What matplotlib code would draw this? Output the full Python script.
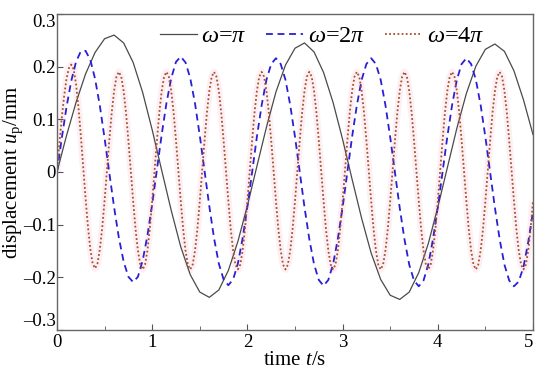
import numpy as np
import matplotlib
matplotlib.use("Agg")
import matplotlib.pyplot as plt

plt.rcParams['font.family'] = ['Liberation Serif', 'DejaVu Serif']
plt.rcParams['mathtext.fontset'] = 'custom'
plt.rcParams['mathtext.rm'] = 'Liberation Serif'
plt.rcParams['mathtext.it'] = 'Liberation Serif:italic'

# time grids (s)
t_pi = np.linspace(0, 5, 51)
t_2pi = np.linspace(0, 5, 101)
t_4pi = np.linspace(0, 5, 201)

# displacement u_p (mm)
u_pi = [0.000, 0.069, 0.132, 0.186, 0.227, 0.253, 0.260, 0.245, 0.208, 0.151, 0.080,
        0.003, -0.073, -0.142, -0.195, -0.228, -0.238, -0.224, -0.187, -0.132, -0.064,
        0.011, 0.085, 0.152, 0.203, 0.235, 0.245, 0.228, 0.189, 0.132, 0.062,
        -0.014, -0.088, -0.154, -0.204, -0.234, -0.242, -0.228, -0.191, -0.136, -0.067,
        0.008, 0.083, 0.149, 0.201, 0.233, 0.243, 0.229, 0.192, 0.137, 0.071]

u_2pi = [0.000, 0.064, 0.123, 0.173, 0.209, 0.229,
         0.230, 0.213, 0.177, 0.126, 0.064, -0.002, -0.067, -0.125, -0.170, -0.199, -0.209,
         -0.199, -0.168, -0.121, -0.061, 0.005, 0.071, 0.131, 0.178, 0.209, 0.219,
         0.208, 0.178, 0.130, 0.069, 0.002, -0.065, -0.126, -0.174, -0.204, -0.215,
         -0.204, -0.174, -0.126, -0.066, 0.000, 0.067, 0.127, 0.175, 0.205, 0.216,
         0.205, 0.175, 0.127, 0.067, 0.000, -0.067, -0.127, -0.175, -0.205, -0.216,
         -0.205, -0.175, -0.127, -0.067, 0.000, 0.067, 0.127, 0.175, 0.205, 0.216,
         0.205, 0.175, 0.127, 0.066, -0.001, -0.068, -0.128, -0.176, -0.206, -0.217,
         -0.206, -0.176, -0.127, -0.067, 0.000, 0.067, 0.127, 0.175, 0.205, 0.216,
         0.205, 0.175, 0.127, 0.066, -0.001, -0.068, -0.128, -0.176, -0.206, -0.217,
         -0.208, -0.180, -0.133, -0.075]

u_4pi = [0.000, 0.053, 0.102, 0.144, 0.177, 0.197, 0.204,
         0.195, 0.167, 0.124, 0.070, 0.010, -0.049, -0.103, -0.146, -0.174, -0.183,
         -0.174, -0.147, -0.106, -0.054, 0.004, 0.061, 0.113, 0.154, 0.181, 0.190,
         # t = 0.675 .. 1.15
         0.181, 0.154, 0.113, 0.060, 0.003, -0.055, -0.108, -0.149, -0.176, -0.185,
         -0.176, -0.149, -0.108, -0.055, 0.003, 0.060, 0.113, 0.154, 0.181, 0.190,
         # t = 1.175 .. 1.65
         0.181, 0.154, 0.113, 0.060, 0.003, -0.055, -0.108, -0.149, -0.176, -0.185,
         -0.176, -0.149, -0.108, -0.055, 0.003, 0.060, 0.113, 0.154, 0.181, 0.190,
         # t = 1.675 .. 2.15
         0.181, 0.154, 0.113, 0.060, 0.003, -0.055, -0.108, -0.149, -0.176, -0.185,
         -0.176, -0.149, -0.108, -0.055, 0.003, 0.060, 0.113, 0.154, 0.181, 0.190,
         # t = 2.175 .. 2.65
         0.181, 0.154, 0.113, 0.060, 0.003, -0.055, -0.108, -0.149, -0.176, -0.185,
         -0.176, -0.149, -0.108, -0.055, 0.003, 0.060, 0.113, 0.154, 0.181, 0.190,
         # t = 2.675 .. 3.15
         0.181, 0.154, 0.113, 0.060, 0.003, -0.055, -0.108, -0.149, -0.176, -0.185,
         -0.176, -0.149, -0.108, -0.055, 0.003, 0.060, 0.113, 0.154, 0.181, 0.190,
         # t = 3.175 .. 3.65
         0.181, 0.154, 0.113, 0.060, 0.003, -0.055, -0.108, -0.149, -0.176, -0.185,
         -0.176, -0.149, -0.108, -0.055, 0.003, 0.060, 0.113, 0.154, 0.181, 0.190,
         # t = 3.675 .. 4.15
         0.181, 0.154, 0.113, 0.060, 0.003, -0.055, -0.108, -0.149, -0.176, -0.185,
         -0.176, -0.149, -0.108, -0.055, 0.003, 0.060, 0.113, 0.154, 0.181, 0.190,
         # t = 4.175 .. 4.65
         0.181, 0.154, 0.113, 0.060, 0.003, -0.055, -0.108, -0.149, -0.176, -0.185,
         -0.176, -0.149, -0.108, -0.055, 0.003, 0.060, 0.113, 0.154, 0.181, 0.190,
         # t = 4.675 .. 5.0
         0.181, 0.154, 0.113, 0.060, 0.003, -0.055, -0.108, -0.149, -0.176, -0.185,
         -0.176, -0.149, -0.108, -0.055]

labels = [r'$\omega$=$\pi$', r'$\omega$=2$\pi$', r'$\omega$=4$\pi$']
yticks = [-0.3, -0.2, -0.1, 0, 0.1, 0.2, 0.3]
ytick_labels = ['\u20130.3', '\u20130.2', '\u20130.1', '0', '0.1', '0.2', '0.3']

fig = plt.figure(figsize=(5.5, 3.79), dpi=100)
ax = fig.add_axes([0.1036, 0.1293, 0.8655, 0.8338])

ax.plot(t_pi, u_pi, color='#4a4a4a', lw=0.9, label=labels[0])
ax.plot(t_2pi, u_2pi, color='#2a1fd6', lw=1.3, ls=(0, (3.8, 2.6)), label=labels[1])
# faint pink halo under the dotted curve
ax.plot(t_4pi, u_4pi, color='#fdf0f5', lw=5, solid_capstyle='butt', zorder=1)
ax.plot(t_4pi, u_4pi, color='#a8502a', lw=1.3, ls=(0, (1, 1.3)), label=labels[2])

ax.set_xlim(0, 5)
ax.set_ylim(-0.3, 0.3)
ax.set_xticks([0, 1, 2, 3, 4, 5])
ax.set_xticks([0.5, 1.5, 2.5, 3.5, 4.5], minor=True)
ax.set_yticks(yticks)
ax.set_yticklabels(ytick_labels)
ax.tick_params(which='both', direction='in', labelsize=13.5, color='#555555')
ax.tick_params(axis='y', pad=1)
ax.tick_params(axis='x', pad=3)
ax.tick_params(which='major', length=4)
ax.tick_params(which='minor', length=3)
for s in ax.spines.values():
    s.set_color('#666666')
    s.set_linewidth(1.0)

# end labels sit inside the axis range, as in the original
ylabs = ax.get_yticklabels()
ylabs[0].set_va('bottom')
ylabs[-1].set_va('top')
ax.get_xticklabels()[-1].set_ha('right')

ax.set_xlabel(r'time $t$/s', fontsize=15, labelpad=0)
ax.set_ylabel(r'displacement $u_{\mathrm{p}}$/mm', fontsize=15)
ax.yaxis.set_label_coords(-0.068, 0.5)

ax.legend(loc='upper left', bbox_to_anchor=(0.18, 1.018), ncol=3, frameon=False,
          fontsize=17.5, handlelength=1.52, columnspacing=0.8, handletextpad=0.2,
          borderaxespad=0.3)

fig.savefig('out.png', dpi=100)
